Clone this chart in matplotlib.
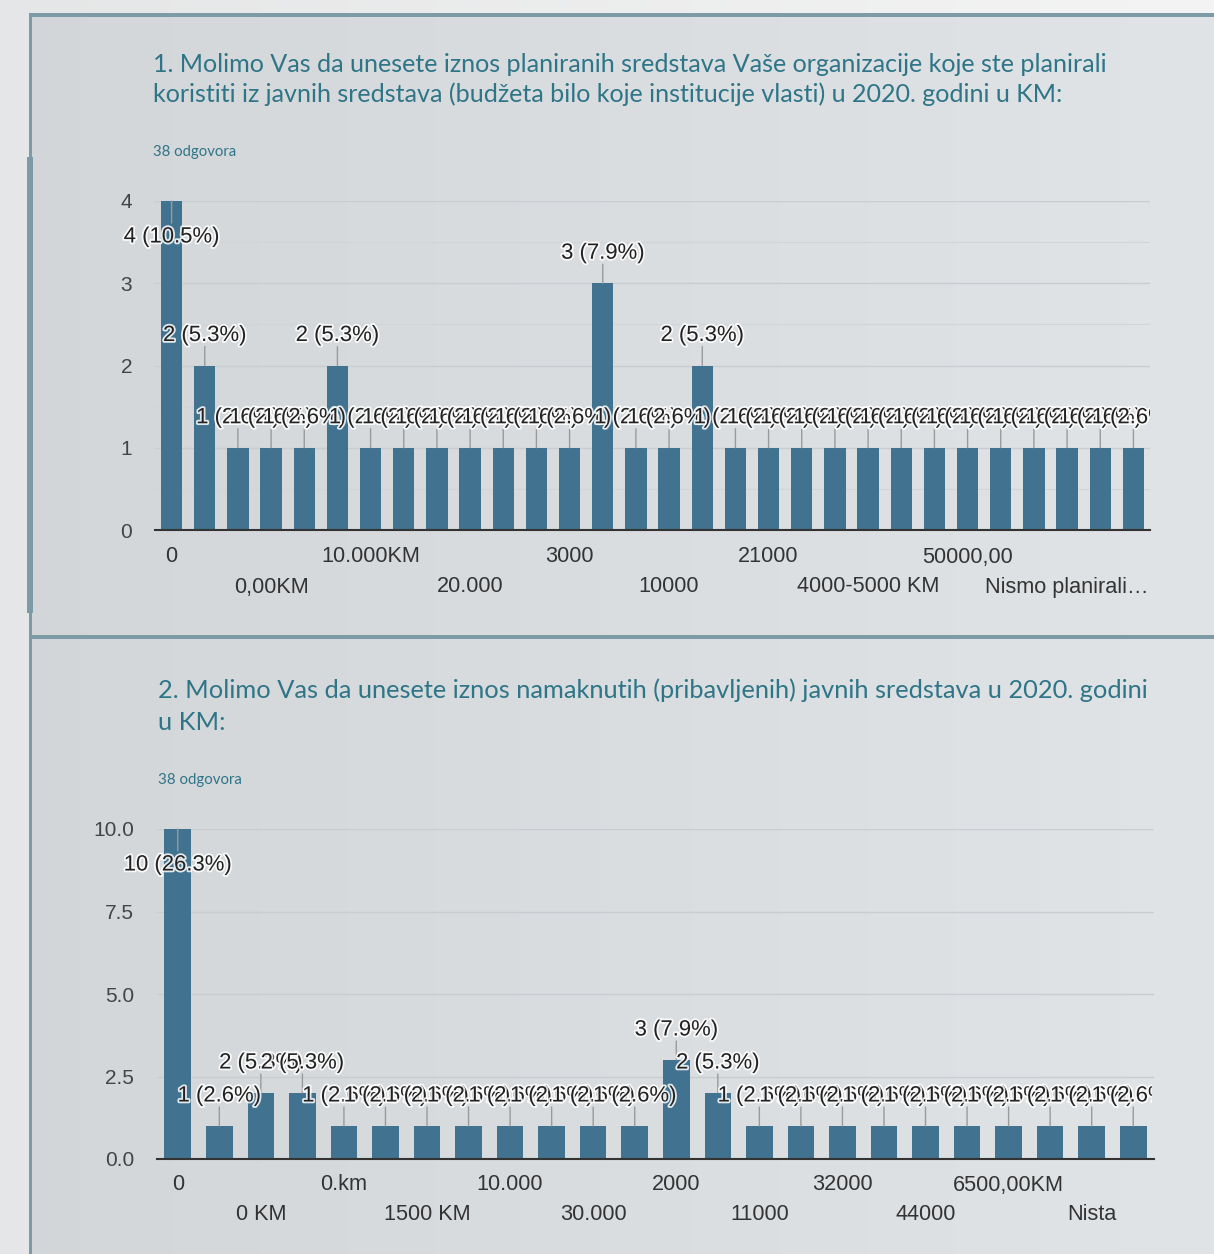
import numpy as np
import matplotlib
matplotlib.use('Agg')
import matplotlib.pyplot as plt
import matplotlib.patheffects as pe
from matplotlib.patches import Rectangle
from matplotlib.ticker import MultipleLocator
from matplotlib.transforms import Bbox

# ---------------- data ----------------
q1_title = ["1. Molimo Vas da unesete iznos planiranih sredstava Vaše organizacije koje ste planirali",
            "koristiti iz javnih sredstava (budžeta bilo koje institucije vlasti) u 2020. godini u KM:"]
q1_responses = "38 odgovora"
q1_labels = ['0', '', '', '0,00KM', '', '', '10.000KM', '', '', '20.000', '', '',
             '3000', '', '', '10000', '', '', '21000', '', '', '4000-5000 KM', '', '',
             '50000,00', '', '', 'Nismo planirali…', '', '']
q1_counts = [4, 2, 1, 1, 1, 2, 1, 1, 1, 1, 1, 1, 1, 3, 1, 1, 2,
             1, 1, 1, 1, 1, 1, 1, 1, 1, 1, 1, 1, 1]
q1_yticks = [0, 1, 2, 3, 4]

q2_title = ["2. Molimo Vas da unesete iznos namaknutih (pribavljenih) javnih sredstava u 2020. godini",
            "u KM:"]
q2_responses = "38 odgovora"
q2_labels = ['0', '', '0 KM', '', '0.km', '', '1500 KM', '', '10.000', '', '30.000', '',
             '2000', '', '11000', '', '32000', '', '44000', '', '6500,00KM', '', 'Nista', '']
q2_counts = [10, 1, 2, 2, 1, 1, 1, 1, 1, 1, 1, 1, 3, 2, 1, 1, 1, 1, 1, 1, 1, 1, 1, 1]
q2_yticks = [0.0, 2.5, 5.0, 7.5, 10.0]

# ---------------- style ----------------
W, H = 1214, 1254
DPI = 100
BAR = '#41728f'
TITLE_C = '#2e7587'
BORDER = '#7c9ba6'
CHART_FONT = ['Liberation Sans', 'Arial', 'DejaVu Sans']
TITLE_FONT = ['Lato', 'Open Sans', 'DejaVu Sans']

fig = plt.figure(figsize=(W / DPI, H / DPI), dpi=DPI)

# background axes in pixel coordinates
bg = fig.add_axes([0, 0, 1, 1])
bg.set_xlim(0, W)
bg.set_ylim(H, 0)
bg.axis('off')
img = np.zeros((H, W, 3))
outer = np.array([229, 230, 231]) / 255
img[:, :] = outer
top_grad = np.linspace(0, 1, W)[:, None]
img[:13, :] = (outer[None, :] * (1 - top_grad) + np.array([244, 244, 244]) / 255 * top_grad)[None, :, :]
card_l = np.array([211, 214, 217]) / 255
card_r = np.array([225, 228, 231]) / 255
img[13:, 29:] = (card_l[None, :] * (1 - top_grad[29:]) + card_r[None, :] * top_grad[29:])[None, :, :]
bg.imshow(img, extent=(0, W, H, 0), aspect='auto', zorder=0)
for (x, y, w, h) in [(29, 13, W - 29, 4), (29, 13, 3, H - 13), (27, 157, 6, 456), (31, 635, W - 31, 4)]:
    bg.add_patch(Rectangle((x, y), w, h, color=BORDER, lw=0, zorder=1))


def fit_text(t, target):
    r = fig.canvas.get_renderer()
    bb = t.get_window_extent(r)
    t.set_fontsize(t.get_fontsize() * target / bb.width)
    return t.get_fontsize()


def titles(lines, x, baselines, target_w, resp, resp_y, resp_w):
    t0 = bg.text(x, baselines[0], lines[0], fontsize=18, color=TITLE_C,
                 family=TITLE_FONT, va='baseline', ha='left', zorder=2)
    fs = fit_text(t0, target_w)
    bg.text(x, baselines[1], lines[1], fontsize=fs, color=TITLE_C,
            family=TITLE_FONT, va='baseline', ha='left', zorder=2)
    tr = bg.text(x, resp_y, resp, fontsize=10, color=TITLE_C,
                 family=TITLE_FONT, va='baseline', ha='left', zorder=2)
    fit_text(tr, resp_w)


fig.canvas.draw()
titles(q1_title, 153, [72, 102], 954, q1_responses, 156, 83)
titles(q2_title, 158, [698, 730], 987, q2_responses, 784, 84)


def chart(rect, counts, labels, yticks, minor, ytfmt, row_off, clip_x):
    x0, x1, ytop, ybot = rect
    ax = fig.add_axes([x0 / W, 1 - ybot / H, (x1 - x0) / W, (ybot - ytop) / H])
    ax.set_facecolor('none')
    n = len(counts)
    xs = np.arange(n)
    ymax = max(yticks)
    ax.bar(xs, counts, width=0.64, color=BAR, zorder=2)
    ax.set_xlim(-0.5, n - 0.5)
    ax.set_ylim(0, ymax)
    ax.set_yticks(yticks)
    ax.set_yticklabels([ytfmt.format(v) for v in yticks])
    if minor:
        ax.yaxis.set_minor_locator(MultipleLocator(minor))
        ax.yaxis.grid(True, which='minor', color='#d2d5d8', lw=0.8, zorder=0)
    ax.yaxis.grid(True, which='major', color='#c9ccd0', lw=1.0, zorder=0)
    ax.set_axisbelow(True)
    for s in ['top', 'right', 'left']:
        ax.spines[s].set_visible(False)
    ax.spines['bottom'].set_color('#333333')
    ax.spines['bottom'].set_linewidth(1.5)
    ax.spines['bottom'].set_zorder(3)
    ax.set_xticks([])
    ax.tick_params(axis='y', which='both', length=0, pad=16.5, labelsize=15,
                   labelcolor='#444444')
    for lab in ax.get_yticklabels():
        lab.set_family(CHART_FONT)
    total = sum(counts)
    clipbox = Bbox.from_extents(0, 0, clip_x, H)
    # stems
    for i, c in enumerate(counts):
        d = -22 if c == ymax else 19
        ax.annotate('', xy=(i, c), xytext=(0, d), textcoords='offset pixels',
                    arrowprops=dict(arrowstyle='-', color='#9a9a9a', lw=1,
                                    shrinkA=0, shrinkB=0), zorder=3,
                    annotation_clip=False)
    # value labels
    for i, c in enumerate(counts):
        d = -36 if c == ymax else 30
        t = ax.annotate(f"{c} ({c / total * 100:.1f}%)", xy=(i, c), xytext=(0, d),
                        textcoords='offset pixels', ha='center', va='center',
                        fontsize=15.9, color='#222222', family=CHART_FONT, zorder=4,
                        annotation_clip=False,
                        path_effects=[pe.withStroke(linewidth=2.6, foreground='#ffffff', alpha=0.85)])
        t.set_clip_box(clipbox)
        t.set_clip_on(True)
    # category labels in two rows
    k = 0
    for i, lab in enumerate(labels):
        if not lab:
            continue
        off = row_off[k % 2]
        ax.annotate(lab, xy=(i, 0), xycoords=('data', 'axes fraction'),
                    xytext=(0, off), textcoords='offset pixels', ha='center',
                    va='center', fontsize=15.6, color='#333333', family=CHART_FONT,
                    annotation_clip=False)
        k += 1
    return ax


chart((155, 1150, 201, 530), q1_counts, q1_labels, q1_yticks, 0.5, '{:g}', (-27, -57), 1150)
chart((157, 1154, 829, 1159), q2_counts, q2_labels, q2_yticks, None, '{:.1f}', (-26, -56), 1152)

fig.savefig('out.png', dpi=DPI)
